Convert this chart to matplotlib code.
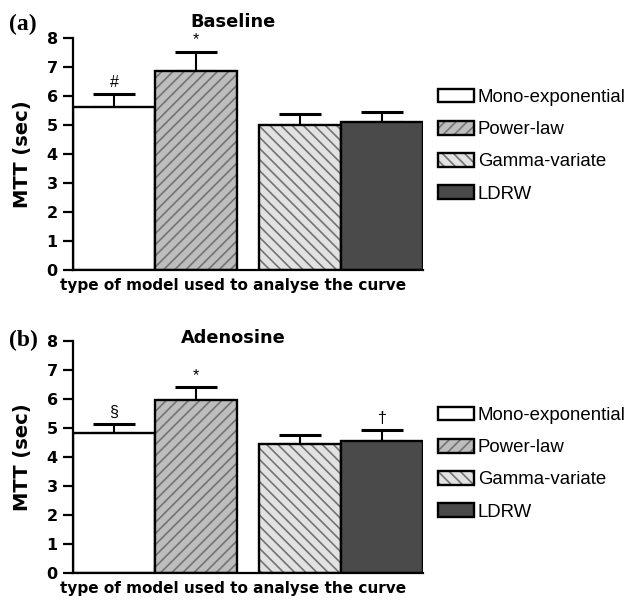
import matplotlib
matplotlib.use("Agg")
import matplotlib.pyplot as plt
from matplotlib.patches import Patch
import numpy as np

plt.rcParams['font.family'] = ['DejaVu Sans']
plt.rcParams['hatch.linewidth'] = 1.2

models = ["Mono-exponential", "Power-law", "Gamma-variate", "LDRW"]
baseline_mean = [5.62, 6.87, 5.00, 5.09]
baseline_err = [0.45, 0.66, 0.38, 0.37]
baseline_marks = ["#", "*", "", ""]
adenosine_mean = [4.81, 5.96, 4.43, 4.55]
adenosine_err = [0.32, 0.45, 0.32, 0.37]
adenosine_marks = ["§", "*", "", "†"]
yticks = [0, 1, 2, 3, 4, 5, 6, 7, 8]

faces = ["white", "#bdbdbd", "#e2e2e2", "#4a4a4a"]
hatches = [None, "///", "\\\\\\", None]
hatch_col = (0.45, 0.45, 0.45, 1.0)

gap = 0.27
xpos = np.array([0.5, 1.5, 2.5 + gap, 3.5 + gap])

fig = plt.figure(figsize=(6.3, 6.0), dpi=100)
ax_a = fig.add_axes([73/630, 1-270/600, 350/630, 232/600])
ax_b = fig.add_axes([73/630, 1-572.7/600, 350/630, 232/600])

BOLD = ['DejaVu Sans']
SANS = ['Liberation Sans', 'DejaVu Sans']


def draw(ax, means, errs, marks, title, title_y, letter, letter_y, leg_y):
    ax.errorbar(xpos, means, yerr=[np.zeros(len(errs)), errs], fmt='none',
                ecolor='black', elinewidth=1.5, capsize=15, capthick=2.2, zorder=1)
    bars = ax.bar(xpos, means, width=1.0, color=faces, edgecolor='black',
                  linewidth=1.7, zorder=2)
    for b, h in zip(bars, hatches):
        if h:
            b.set_hatch(h)
            b._hatch_color = hatch_col
    for x, m, e, s in zip(xpos, means, errs, marks):
        if s:
            ax.annotate(s, xy=(x, m + e), xytext=(0, 3), textcoords='offset points',
                        ha='center', va='bottom', fontsize=11.5, family=SANS)
    ax.set_xlim(0, 4 + gap)
    ax.set_ylim(0, 8)
    ax.set_yticks(yticks)
    ax.set_yticklabels([str(t) for t in yticks], fontweight='bold', fontsize=11.5,
                       family=BOLD)
    ax.set_xticks([])
    for sp in ['top', 'right']:
        ax.spines[sp].set_visible(False)
    for sp in ['left', 'bottom']:
        ax.spines[sp].set_linewidth(1.6)
    ax.tick_params(axis='y', direction='out', length=7, width=1.6, pad=4)
    ax.set_ylabel("MTT (sec)", fontweight='bold', fontsize=14, family=BOLD)
    ax.yaxis.set_label_coords(-0.118, 0.5)
    ax.set_xlabel("type of model used to analyse the curve", fontweight='bold',
                  fontsize=11, family=BOLD)
    ax.xaxis.set_label_coords(0.457, -0.035)
    ax.text(0.457, title_y, title, transform=ax.transAxes, ha='center',
            va='baseline', fontweight='bold', fontsize=12.8, family=BOLD)
    fig.text(9/630, letter_y, letter, family='Liberation Serif', fontweight='bold',
             fontsize=17, va='baseline', ha='left')
    handles = []
    for lab, fc, h in zip(models, faces, hatches):
        p = Patch(facecolor=fc, edgecolor='black', linewidth=1.7, hatch=h, label=lab)
        if h:
            p._hatch_color = hatch_col
        handles.append(p)
    ax.legend(handles=handles, loc='center left', bbox_to_anchor=(1.043, leg_y),
              frameon=False, borderpad=0, borderaxespad=0,
              prop={'family': SANS, 'size': 13.4},
              handlelength=1.94, handleheight=0.75, handletextpad=0.2,
              labelspacing=0.8)


draw(ax_a, baseline_mean, baseline_err, baseline_marks, "Baseline", 1.047, "(a)",
     1-30/600, 0.536)
draw(ax_b, adenosine_mean, adenosine_err, adenosine_marks, "Adenosine", 0.989, "(b)",
     1-346/600, 0.470)

fig.savefig("out.png", dpi=100)
